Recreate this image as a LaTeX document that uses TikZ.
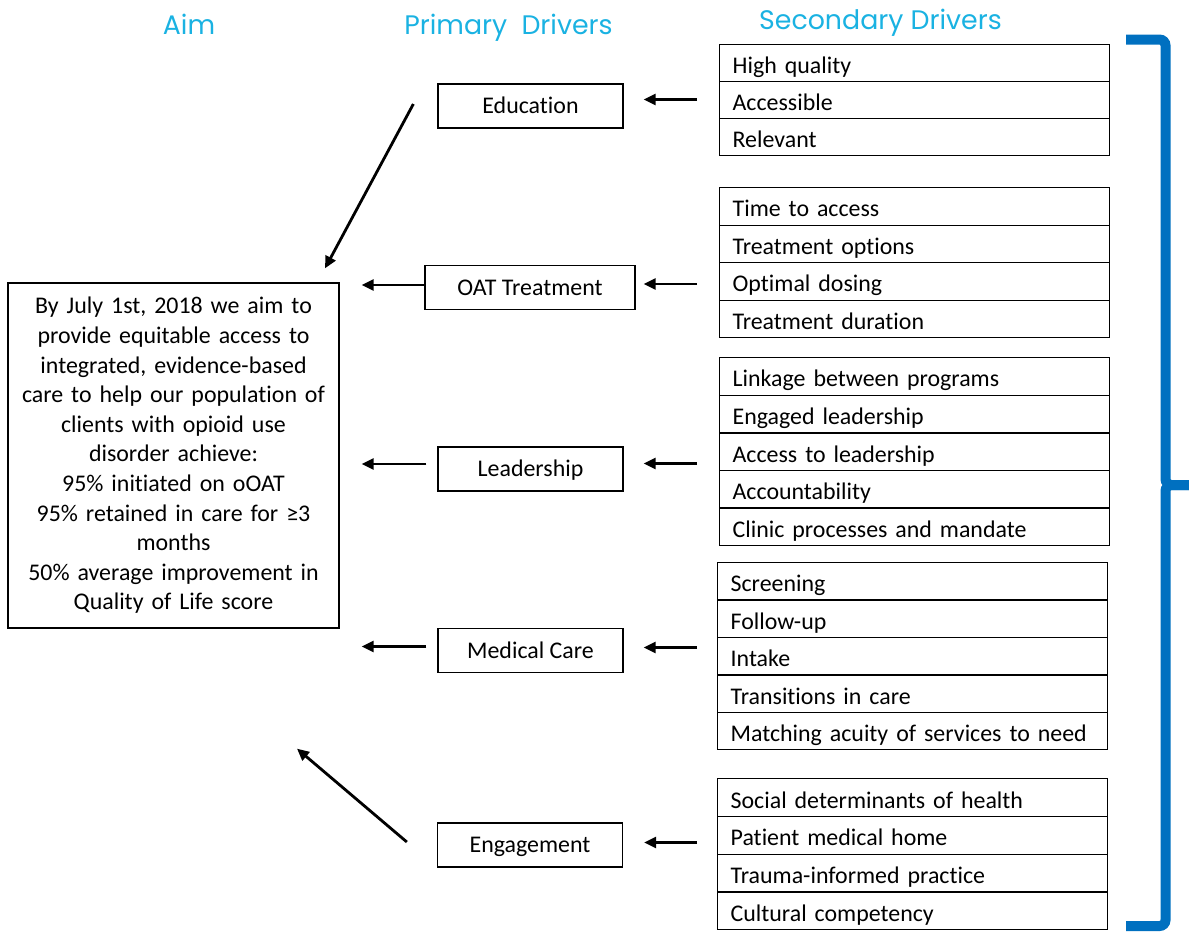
\documentclass[tikz,border=0pt]{standalone}
\usepackage{fontspec}
\setmainfont{Carlito}[RawFeature=-liga]
\newfontfamily\headfont{Poppins}
\usetikzlibrary{arrows.meta}
\definecolor{headcyan}{HTML}{1AB2E2}
\definecolor{braceblue}{HTML}{0070C0}

\begin{document}
\begin{tikzpicture}[x=1pt,y=-1pt,
  heading/.style={anchor=base, font=\headfont\fontsize{26.8}{30}\selectfont, text=headcyan, inner sep=0pt},
  body/.style={font=\fontsize{23.9}{29.6}\selectfont},
  secrow/.style={draw, line width=1.3pt, anchor=north west, body, text width=364pt,
    inner xsep=13pt, inner ysep=0pt, align=left, text height=21pt, text depth=0pt},
  prim/.style={draw, line width=1.3pt, body, minimum width=185pt, minimum height=44pt,
    inner sep=0pt, text height=15pt, text depth=0pt},
  arr/.style={line width=2.8pt, -{Triangle[length=12pt,width=11pt]}},
  bracestroke/.style={braceblue, line width=10pt, rounded corners=6pt}
]
\useasboundingbox (0,0) rectangle (1189,932);

% column headings
\node[heading] (hAim) at (189,34) {Aim};
\node[heading] (hPrim) at (508.5,34) {Primary\ \ Drivers};
\node[heading] (hSec) at (880.5,29) {Secondary Drivers};

% aim statement
\node[draw, line width=1.3pt, body, minimum width=331pt, minimum height=345pt,
      text width=325pt, align=center, inner sep=0pt] (aim) at (173.5,455.5)
  {By July 1st, 2018 we aim to\\
   provide equitable access to\\
   integrated, evidence-based\\
   care to help our population of\\
   clients with opioid use\\
   disorder achieve:\\
   95\% initiated on oOAT\\
   95\% retained in care for ≥3\\
   months\\
   50\% average improvement in\\
   Quality of Life score};

% primary drivers
\node[prim] (edu)  at (530.5,106)   {Education};
\node[prim, minimum width=210pt] (oat) at (530,287.5) {OAT Treatment};
\node[prim] (lead) at (530.5,469)   {Leadership};
\node[prim] (med)  at (530.5,650.5) {Medical Care};
\node[prim] (eng)  at (530,845)     {Engagement};

% secondary drivers, one stack of rows per primary driver
\foreach \t [count=\i] in {High quality, Accessible, Relevant}
  \node[secrow, minimum height=37pt] (g1-\i) at (719,{44+37*(\i-1)}) {\t};
\foreach \t [count=\i] in {Time to access, Treatment options, Optimal dosing, Treatment duration}
  \node[secrow, minimum height=37.5pt] (g2-\i) at (719,{187+37.5*(\i-1)}) {\t};
\foreach \t [count=\i] in {Linkage between programs, Engaged leadership, Access to leadership, Accountability, Clinic processes and mandate}
  \node[secrow, minimum height=37.6pt] (g3-\i) at (719,{357+37.6*(\i-1)}) {\t};
\foreach \t [count=\i] in {Screening, Follow-up, Intake, Transitions in care, Matching acuity of services to need}
  \node[secrow, minimum height=37.4pt] (g4-\i) at (717,{562+37.4*(\i-1)}) {\t};
\foreach \t [count=\i] in {Social determinants of health, Patient medical home, Trauma-informed practice, Cultural competency}
  \node[secrow, minimum height=37.75pt] (g5-\i) at (717,{778+37.75*(\i-1)}) {\t};

% secondary -> primary arrows
\draw[arr, shorten <=22pt, shorten >=20pt] ([yshift=6.5pt]g1-1.west |- edu.east) -- ([yshift=6.5pt]edu.east);
\draw[arr, shorten <=22pt, shorten >=8pt] ([yshift=3.5pt]g2-1.west |- oat.east) -- ([yshift=3.5pt]oat.east);
\draw[arr, shorten <=22pt, shorten >=20pt] ([yshift=5.5pt]g3-1.west |- lead.east) -- ([yshift=5.5pt]lead.east);
\draw[arr, shorten <=20pt, shorten >=20pt] ([yshift=3pt]g4-1.west |- med.east) -- ([yshift=3pt]med.east);
\draw[arr, shorten <=20pt, shorten >=21pt] ([yshift=2.5pt]g5-1.west |- eng.east) -- ([yshift=2.5pt]eng.east);

% primary -> aim arrows
\draw[arr] ([xshift=-24pt,yshift=2pt]edu.west) -- ([xshift=151.5pt,yshift=14pt]aim.north);
\draw[arr, shorten >=22pt] ([yshift=2.5pt]oat.west) -- ([yshift=2.5pt]aim.east |- oat.west);
\draw[arr, shorten <=11pt, shorten >=22pt] ([yshift=5pt]lead.west) -- ([yshift=5pt]aim.east |- lead.west);
\draw[arr, shorten <=11pt, shorten >=22pt] ([yshift=4pt]med.west) -- ([yshift=4pt]aim.east |- med.west);
\draw[arr] ([xshift=-30pt,yshift=3pt]eng.west) -- ([xshift=123.5pt,yshift=-120pt]aim.south);

% right-hand brace grouping all secondary drivers
\draw[bracestroke] (1126,39.5) -- (1165.5,39.5) -- (1165.5,485) -- (1200,485);
\draw[bracestroke] (1200,485) -- (1165.5,485) -- (1165.5,926) -- (1126,926);
\end{tikzpicture}
\end{document}
